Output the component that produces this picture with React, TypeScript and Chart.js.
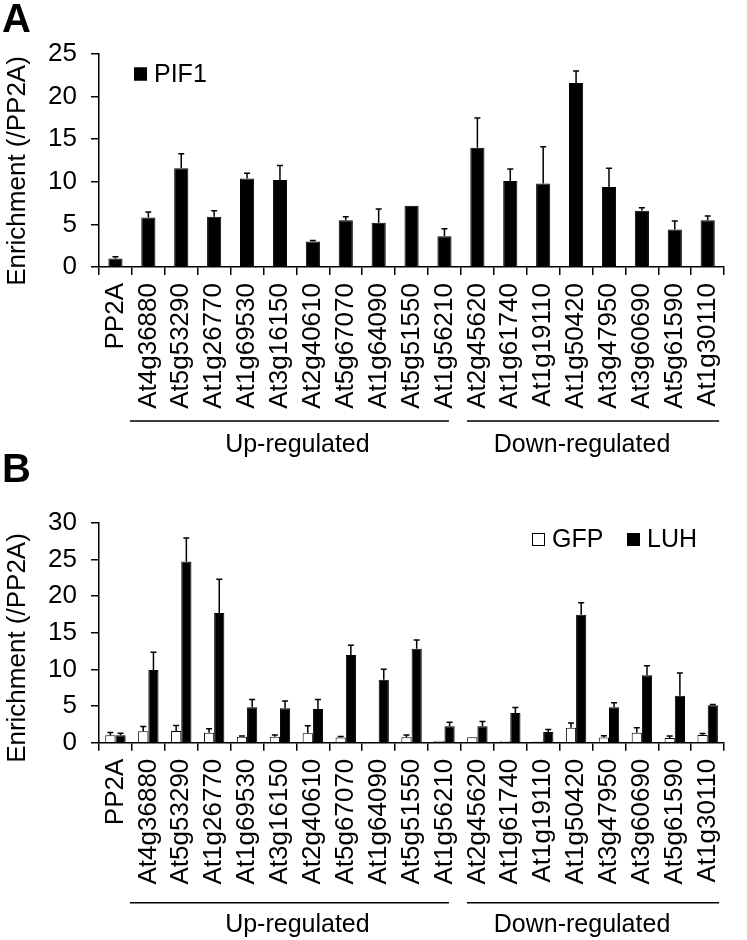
import React, { useEffect, useRef } from "react";
import { Chart, registerables } from "chart.js";

Chart.register(...registerables);

// ---------- DATA ----------
const categories = [
  "PP2A", "At4g36880", "At5g53290", "At1g26770", "At1g69530", "At3g16150",
  "At2g40610", "At5g67070", "At1g64090", "At5g51550", "At1g56210",
  "At2g45620", "At1g61740", "At1g19110", "At1g50420", "At3g47950",
  "At3g60690", "At5g61590", "At1g30110",
];

const pif1Values = [1.0, 5.8, 11.6, 5.9, 10.4, 10.2, 3.0, 5.5, 5.2, 7.2, 3.6, 14.0, 10.1, 9.8, 21.6, 9.4, 6.6, 4.4, 5.5];
const pif1Errors = [0.2, 0.65, 1.7, 0.7, 0.6, 1.7, 0.1, 0.4, 1.6, 0, 0.9, 3.5, 1.4, 4.3, 1.4, 2.2, 0.35, 1.0, 0.5];

const gfpValues = [1.0, 1.55, 1.6, 1.35, 0.8, 0.8, 1.3, 0.7, 0.1, 0.75, 0.25, 0.75, 0.2, 0.15, 2.05, 0.7, 1.35, 0.65, 1.05];
const gfpErrors = [0.4, 0.65, 0.75, 0.55, 0.1, 0.25, 1.0, 0.15, 0, 0.3, 0, 0, 0, 0, 0.65, 0.25, 0.7, 0.25, 0.2];

const luhValues = [1.0, 9.9, 24.7, 17.7, 4.85, 4.7, 4.6, 11.95, 8.6, 12.8, 2.25, 2.25, 4.05, 1.45, 17.45, 4.85, 9.2, 6.4, 5.1];
const luhErrors = [0.3, 2.45, 3.2, 4.6, 1.05, 1.0, 1.3, 1.35, 1.4, 1.2, 0.55, 0.65, 0.75, 0.35, 1.65, 0.6, 1.3, 3.1, 0.1];

const yTicksA = [0, 5, 10, 15, 20, 25];
const yTicksB = [0, 5, 10, 15, 20, 25, 30];

const yTitle = "Enrichment (/PP2A)";
const upLabel = "Up-regulated";
const downLabel = "Down-regulated";
const upRange = [1, 10];
const downRange = [11, 18];

// ---------- STYLE ----------
const FONT = "'Liberation Sans', Arial, Helvetica, sans-serif";
const FS = 25;
const TICK_FS = 26;

const errorBarPlugin = {
  id: "errorBars",
  afterDatasetsDraw(chart: any) {
    const ctx = chart.ctx;
    const ys = chart.scales.y;
    chart.data.datasets.forEach((ds: any, i: number) => {
      const errs = ds.errors as number[] | undefined;
      if (!errs) return;
      const meta = chart.getDatasetMeta(i);
      meta.data.forEach((bar: any, j: number) => {
        const e = errs[j];
        if (!e) return;
        const v = ds.data[j] as number;
        const x = bar.x;
        const y0 = ys.getPixelForValue(v);
        const y1 = ys.getPixelForValue(v + e);
        ctx.save();
        ctx.strokeStyle = "#000";
        ctx.lineWidth = 1.5;
        ctx.beginPath();
        ctx.moveTo(x, y0);
        ctx.lineTo(x, y1);
        ctx.moveTo(x - 3, y1);
        ctx.lineTo(x + 3, y1);
        ctx.stroke();
        ctx.restore();
      });
    });
  },
};

type PanelCfg = {
  letter: string;
  titleY: number;
  legend: { label: string; fill: string; x: number; y: number }[];
  lineY: number;
  textY: number;
};

function makeDecorPlugin(cfg: PanelCfg) {
  return {
    id: "decor",
    afterDraw(chart: any) {
      const ctx = chart.ctx;
      const xs = chart.scales.x;
      ctx.save();
      // panel letter
      ctx.fillStyle = "#000";
      ctx.font = `bold 40px ${FONT}`;
      ctx.textAlign = "left";
      ctx.textBaseline = "alphabetic";
      ctx.fillText(cfg.letter, 2, 32);

      // y title
      ctx.save();
      ctx.translate(18, cfg.titleY);
      ctx.rotate(-Math.PI / 2);
      ctx.font = `26px ${FONT}`;
      ctx.textAlign = "center";
      ctx.textBaseline = "middle";
      ctx.fillText(yTitle, 0, 0);
      ctx.restore();

      // legend
      ctx.font = `${FS}px ${FONT}`;
      ctx.textBaseline = "middle";
      ctx.textAlign = "left";
      cfg.legend.forEach((it) => {
        ctx.fillStyle = it.fill;
        ctx.fillRect(it.x, it.y - 6.5, 13, 13);
        ctx.strokeStyle = "#000";
        ctx.lineWidth = 1;
        ctx.strokeRect(it.x + 0.5, it.y - 6, 12, 12);
        ctx.fillStyle = "#000";
        ctx.fillText(it.label, it.x + 20, it.y + 1);
      });

      // group lines + labels
      const half = (xs.getPixelForValue(1) - xs.getPixelForValue(0)) / 2;
      const upStart = xs.getPixelForValue(upRange[0]) - half - 2;
      const upEnd = xs.getPixelForValue(upRange[1]) + half - 12;
      const dnStart = xs.getPixelForValue(downRange[0]) - half + 6;
      const dnEnd = xs.getPixelForValue(downRange[1]) + half - 5;
      ctx.strokeStyle = "#000";
      ctx.lineWidth = 1.5;
      ctx.beginPath();
      ctx.moveTo(upStart, cfg.lineY);
      ctx.lineTo(upEnd, cfg.lineY);
      ctx.moveTo(dnStart, cfg.lineY);
      ctx.lineTo(dnEnd, cfg.lineY);
      ctx.stroke();
      ctx.fillStyle = "#000";
      ctx.font = `${FS}px ${FONT}`;
      ctx.textAlign = "center";
      ctx.textBaseline = "alphabetic";
      ctx.fillText(upLabel, (upStart + upEnd) / 2 + 8, cfg.textY);
      ctx.fillText(downLabel, (dnStart + dnEnd) / 2 - 11, cfg.textY);
      ctx.restore();
    },
  };
}

function buildOptions(maxY: number, ticks: number[], topPad: number, xHeight: number) {
  return {
    responsive: false,
    animation: false as const,
    devicePixelRatio: 1,
    layout: { padding: { left: 0, right: 4, top: topPad, bottom: 0 } },
    plugins: { legend: { display: false }, tooltip: { enabled: false }, title: { display: false } },
    scales: {
      x: {
        type: "category" as const,
        grid: { offset: true, drawOnChartArea: false, drawTicks: true, tickLength: 8, color: "#000", lineWidth: 1.5 },
        border: { display: true, color: "#000", width: 1.5 },
        ticks: {
          autoSkip: false,
          minRotation: 90,
          maxRotation: 90,
          padding: 8,
          color: "#000",
          font: { family: FONT, size: TICK_FS },
        },
        afterFit: (s: any) => {
          s.height = xHeight;
        },
      },
      y: {
        min: 0,
        max: maxY,
        afterBuildTicks: (s: any) => {
          s.ticks = ticks.map((v) => ({ value: v }));
        },
        grid: { drawOnChartArea: false, drawTicks: true, tickLength: 8, color: "#000", lineWidth: 1.5 },
        border: { display: true, color: "#000", width: 1.5 },
        ticks: { padding: 14, color: "#000", font: { family: FONT, size: TICK_FS } },
        afterFit: (s: any) => {
          s.width = 99;
        },
      },
    },
  };
}

function PanelA() {
  const ref = useRef<HTMLCanvasElement>(null);
  useEffect(() => {
    const chart = new Chart(ref.current!, {
      type: "bar",
      data: {
        labels: categories,
        datasets: [
          {
            label: "PIF1",
            data: pif1Values,
            errors: pif1Errors,
            backgroundColor: "#000",
            borderColor: "#000",
            borderWidth: 1,
            barPercentage: 0.43,
            categoryPercentage: 1,
          } as any,
        ],
      },
      options: buildOptions(25, yTicksA, 54, 203) as any,
      plugins: [
        errorBarPlugin,
        makeDecorPlugin({
          letter: "A",
          titleY: 171,
          legend: [{ label: "PIF1", fill: "#000", x: 134, y: 74 }],
          lineY: 421,
          textY: 452,
        }),
      ],
    });
    return () => chart.destroy();
  }, []);
  return <canvas ref={ref} width={747} height={470} style={{ position: "absolute", left: 0, top: 0 }} />;
}

function PanelB() {
  const ref = useRef<HTMLCanvasElement>(null);
  useEffect(() => {
    const chart = new Chart(ref.current!, {
      type: "bar",
      data: {
        labels: categories,
        datasets: [
          {
            label: "GFP",
            data: gfpValues,
            errors: gfpErrors,
            backgroundColor: "#fff",
            borderColor: "#000",
            borderWidth: 1,
            barPercentage: 1,
            categoryPercentage: 0.62,
          } as any,
          {
            label: "LUH",
            data: luhValues,
            errors: luhErrors,
            backgroundColor: "#000",
            borderColor: "#000",
            borderWidth: 1,
            barPercentage: 1,
            categoryPercentage: 0.62,
          } as any,
        ],
      },
      options: buildOptions(30, yTicksB, 72.7, 197.3) as any,
      plugins: [
        errorBarPlugin,
        makeDecorPlugin({
          letter: "B",
          titleY: 198,
          legend: [
            { label: "GFP", fill: "#fff", x: 532, y: 89.5 },
            { label: "LUH", fill: "#000", x: 627, y: 89.5 },
          ],
          lineY: 452.7,
          textY: 481.7,
        }),
      ],
    });
    return () => chart.destroy();
  }, []);
  return <canvas ref={ref} width={747} height={490} style={{ position: "absolute", left: 0, top: 450 }} />;
}

export default function App() {
  return (
    <div style={{ position: "absolute", left: 0, top: 0, width: 747, height: 940, background: "#fff" }}>
      <PanelA />
      <PanelB />
    </div>
  );
}
